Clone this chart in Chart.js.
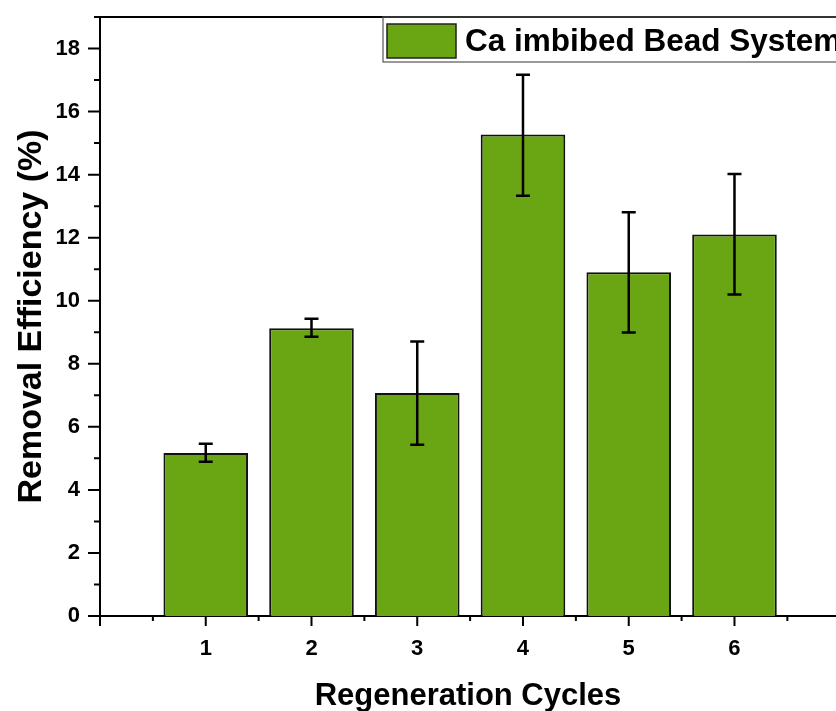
<!DOCTYPE html>
<html>
<head>
<meta charset="utf-8">
<script src="https://cdn.jsdelivr.net/npm/chart.js@4/dist/chart.umd.min.js"></script>
<style>
  html, body { margin: 0; padding: 0; background: #fff; overflow: hidden; }
  #wrap { width: 836px; height: 711px; }
</style>
</head>
<body>
<div id="wrap"><canvas id="chart" width="836" height="711"></canvas></div>
<script>
const cycles = [1, 2, 3, 4, 5, 6];
const efficiency = [5.17, 9.13, 7.07, 15.27, 10.90, 12.10];
const errUpper = [5.46, 9.43, 8.71, 17.17, 12.81, 14.02];
const errLower = [4.89, 8.86, 5.43, 13.33, 8.99, 10.20];
const yTicks = [0, 2, 4, 6, 8, 10, 12, 14, 16, 18];
const legendLabel = "Ca imbibed Bead System";

const FONT = "'Liberation Sans', Arial, sans-serif";
const GREEN = "#6aa513";

const errorBars = {
    id: "errorBars",
    afterDatasetsDraw(chart) {
        const { ctx, scales: { x, y } } = chart;
        ctx.save();
        ctx.strokeStyle = "#000";
        ctx.lineWidth = 2.5;
        cycles.forEach((c, i) => {
            const px = x.getPixelForValue(c);
            const top = y.getPixelForValue(errUpper[i]);
            const bot = y.getPixelForValue(errLower[i]);
            ctx.beginPath();
            ctx.moveTo(px, top); ctx.lineTo(px, bot);
            ctx.moveTo(px - 7, top); ctx.lineTo(px + 7, top);
            ctx.moveTo(px - 7, bot); ctx.lineTo(px + 7, bot);
            ctx.stroke();
        });
        ctx.restore();
    }
};

const frame = {
    id: "frame",
    afterDraw(chart) {
        const { ctx, chartArea: a, scales: { x, y } } = chart;
        ctx.save();
        ctx.strokeStyle = "#000";
        ctx.lineWidth = 2;
        ctx.beginPath();
        ctx.moveTo(a.left - 1, a.top); ctx.lineTo(a.right, a.top);
        // y ticks (major at even, minor at odd)
        for (let v = 0; v <= 19; v++) {
            const py = y.getPixelForValue(v);
            const len = v % 2 === 0 ? 12 : 6;
            ctx.moveTo(a.left, py); ctx.lineTo(a.left - len, py);
        }
        // x ticks (major at integers, minor at halves)
        for (let v = 0; v <= 7; v += 0.5) {
            const px = x.getPixelForValue(v);
            if (px > a.right + 1) break;
            const len = Number.isInteger(v) ? 10 : 5;
            ctx.moveTo(px, a.bottom); ctx.lineTo(px, a.bottom + len);
        }
        ctx.stroke();

        // legend box
        ctx.strokeStyle = "#555";
        ctx.lineWidth = 1.2;
        ctx.strokeRect(383, 17, 500, 45);
        ctx.fillStyle = GREEN;
        ctx.fillRect(387, 24, 69, 34);
        ctx.strokeStyle = "#222";
        ctx.lineWidth = 1.5;
        ctx.strokeRect(387, 24, 69, 34);
        ctx.fillStyle = "#000";
        ctx.font = "bold 31.5px " + FONT;
        ctx.textBaseline = "alphabetic";
        ctx.fillText(legendLabel, 465, 51);
        ctx.restore();
    }
};

new Chart(document.getElementById("chart"), {
    type: "bar",
    data: {
        datasets: [{
            label: legendLabel,
            data: cycles.map((c, i) => ({ x: c, y: efficiency[i] })),
            backgroundColor: GREEN,
            borderColor: "#111",
            borderWidth: 2,
            barPercentage: 0.8,
            categoryPercentage: 1.0
        }]
    },
    options: {
        responsive: false,
        animation: false,
        layout: { padding: { top: 17, right: 0, left: 0, bottom: 0 } },
        plugins: { legend: { display: false }, tooltip: { enabled: false } },
        scales: {
            x: {
                type: "linear",
                min: 0,
                max: 6.96,
                offset: false,
                afterBuildTicks: s => { s.ticks = cycles.map(v => ({ value: v })); },
                afterFit: s => { s.height = 95; s.paddingLeft = 0; s.paddingRight = 0; },
                grid: { display: false, drawTicks: false },
                border: { color: "#000", width: 2 },
                ticks: { color: "#000", padding: 20, font: { family: FONT, size: 22, weight: "bold" } },
                title: {
                    display: true, text: "Regeneration Cycles", color: "#000",
                    font: { family: FONT, size: 31, weight: "bold" }, padding: { top: 0, bottom: -4 }
                }
            },
            y: {
                min: 0,
                max: 19,
                afterBuildTicks: s => { s.ticks = yTicks.map(v => ({ value: v })); },
                afterFit: s => { s.width = 100; s.paddingTop = 0; s.paddingBottom = 0; },
                grid: { display: false, drawTicks: false },
                border: { color: "#000", width: 2 },
                ticks: { color: "#000", padding: 20, font: { family: FONT, size: 22, weight: "bold" } },
                title: {
                    display: true, text: "Removal Efficiency (%)", color: "#000",
                    font: { family: FONT, size: 34, weight: "bold" }, padding: { top: 11, bottom: 0 }
                }
            }
        }
    },
    plugins: [errorBars, frame]
});
</script>
</body>
</html>
